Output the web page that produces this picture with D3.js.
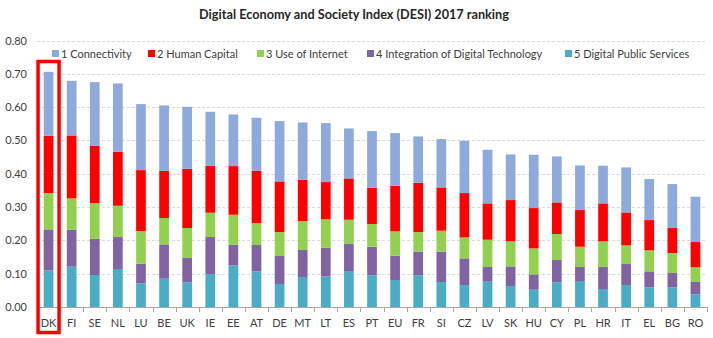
<!DOCTYPE html>
<html>
<head>
<meta charset="utf-8">
<script src="https://cdn.jsdelivr.net/npm/d3@7/dist/d3.min.js"></script>
<style>
  html, body { margin: 0; padding: 0; background: #fff; }
  svg { display: block; font-family: Lato, "Open Sans", sans-serif; }
</style>
</head>
<body>
<div id="chart"></div>
<script>
const countries = ["DK","FI","SE","NL","LU","BE","UK","IE","EE","AT","DE","MT","LT","ES","PT","EU","FR","SI","CZ","LV","SK","HU","CY","PL","HR","IT","EL","BG","RO"];
const seriesNames = ["1 Connectivity","2 Human Capital","3 Use of Internet","4 Integration of Digital Technology","5 Digital Public Services"];
const digitalPublicServices = [0.110,0.121,0.096,0.114,0.071,0.085,0.074,0.099,0.125,0.107,0.069,0.090,0.092,0.108,0.095,0.081,0.095,0.075,0.066,0.076,0.063,0.052,0.074,0.078,0.054,0.066,0.059,0.059,0.038];
const integrationDigitalTech = [0.123,0.111,0.109,0.096,0.059,0.103,0.073,0.111,0.062,0.079,0.084,0.081,0.086,0.081,0.086,0.073,0.071,0.091,0.080,0.044,0.059,0.046,0.067,0.042,0.066,0.063,0.048,0.043,0.037];
const useOfInternet = [0.109,0.094,0.107,0.094,0.098,0.079,0.090,0.073,0.090,0.066,0.072,0.087,0.085,0.073,0.068,0.073,0.059,0.063,0.063,0.082,0.075,0.078,0.078,0.061,0.077,0.056,0.063,0.060,0.044];
const humanCapital = [0.172,0.189,0.172,0.162,0.183,0.142,0.178,0.141,0.146,0.157,0.152,0.124,0.112,0.124,0.109,0.137,0.148,0.130,0.133,0.109,0.124,0.121,0.095,0.110,0.114,0.099,0.091,0.075,0.076];
const connectivity = [0.192,0.164,0.191,0.205,0.198,0.196,0.186,0.162,0.155,0.159,0.181,0.172,0.177,0.150,0.170,0.158,0.139,0.145,0.157,0.161,0.137,0.160,0.138,0.134,0.113,0.135,0.123,0.132,0.136];
const yTicks = [0,0.1,0.2,0.3,0.4,0.5,0.6,0.7,0.8];
const titleText = "Digital Economy and Society Index (DESI) 2017 ranking";
const highlighted = "DK";

const colors = ["#8EA9DB","#FF0000","#92D050","#8064A2","#4BACC6"];
const W = 713, H = 338;
const m = {left: 37, right: 6, top: 40.5, bottom: 31};

// stacked from bottom: 5,4,3,2,1
const stackOrder = [digitalPublicServices, integrationDigitalTech, useOfInternet, humanCapital, connectivity];
const stackColors = [colors[4], colors[3], colors[2], colors[1], colors[0]];
const rows = countries.map((c, i) => {
  const r = {country: c};
  stackOrder.forEach((arr, k) => r["s" + k] = arr[i]);
  return r;
});
const keys = ["s0","s1","s2","s3","s4"];
const stacked = d3.stack().keys(keys)(rows);

const svg = d3.select("#chart").append("svg").attr("width", W).attr("height", H);

const x = d3.scaleBand().domain(countries).range([m.left, W - m.right]).paddingInner(0.58).paddingOuter(0.29);
const y = d3.scaleLinear().domain([0, 0.8]).range([H - m.bottom, m.top]);

// gridlines
svg.append("g").selectAll("line").data(yTicks.filter(t => t > 0)).join("line")
  .attr("x1", m.left).attr("x2", W - m.right)
  .attr("y1", d => Math.round(y(d)) + 0.5).attr("y2", d => Math.round(y(d)) + 0.5)
  .attr("stroke", "#d9d9d9").attr("stroke-width", 1).attr("stroke-dasharray", "3,2");

// bars
svg.append("g").selectAll("g").data(stacked).join("g")
  .attr("fill", (d, i) => stackColors[i])
  .selectAll("rect").data(d => d).join("rect")
  .attr("x", d => x(d.data.country))
  .attr("width", x.bandwidth())
  .attr("y", d => y(d[1]))
  .attr("height", d => y(d[0]) - y(d[1]));

// y axis labels
const yAxis = d3.axisLeft(y).tickValues(yTicks).tickFormat(d3.format(".2f")).tickSize(0).tickPadding(10);
const ga = svg.append("g").attr("transform", `translate(${m.left},0)`).call(yAxis);
ga.select(".domain").remove();
ga.selectAll("text").attr("font-size", 11).attr("fill", "#404040").attr("font-family", "Lato, 'Open Sans', sans-serif");

// x axis
const step = x.step();
const xAxisG = svg.append("g").attr("transform", `translate(0,${y(0)})`);
xAxisG.append("line").attr("x1", m.left).attr("x2", W - m.right).attr("y1", 0.5).attr("y2", 0.5).attr("stroke", "#a6a6a6");
const tickPos = d3.range(countries.length + 1).map(i => m.left + i * step);
xAxisG.selectAll("line.tk").data(tickPos).join("line").attr("class", "tk")
  .attr("x1", d => Math.round(d) + 0.5).attr("x2", d => Math.round(d) + 0.5)
  .attr("y1", 0).attr("y2", 5).attr("stroke", "#a6a6a6");
xAxisG.selectAll("text").data(countries).join("text")
  .attr("x", d => x(d) + x.bandwidth() / 2).attr("y", 19.5)
  .attr("text-anchor", "middle").attr("font-size", 11).attr("fill", "#404040")
  .text(d => d);

// highlight box
svg.append("rect")
  .attr("x", x(highlighted) + x.bandwidth() / 2 - 10.5)
  .attr("y", 61.5)
  .attr("width", 21).attr("height", 271)
  .attr("fill", "none").attr("stroke", "#FF0000").attr("stroke-width", 3.5);

// title
svg.append("text").attr("x", 354).attr("y", 18.5).attr("text-anchor", "middle")
  .attr("font-size", 12.7).attr("font-weight", "bold").attr("fill", "#262626").text(titleText);

// legend
const legendX = [52, 148, 257, 367, 565];
const lg = svg.append("g").selectAll("g").data(seriesNames).join("g")
  .attr("transform", (d, i) => `translate(${legendX[i]},50)`);
lg.append("rect").attr("width", 7).attr("height", 7).attr("fill", (d, i) => colors[i]);
lg.append("text").attr("x", 9).attr("y", 7.5).attr("font-size", 11).attr("fill", "#404040").text(d => d);
</script>
</body>
</html>
